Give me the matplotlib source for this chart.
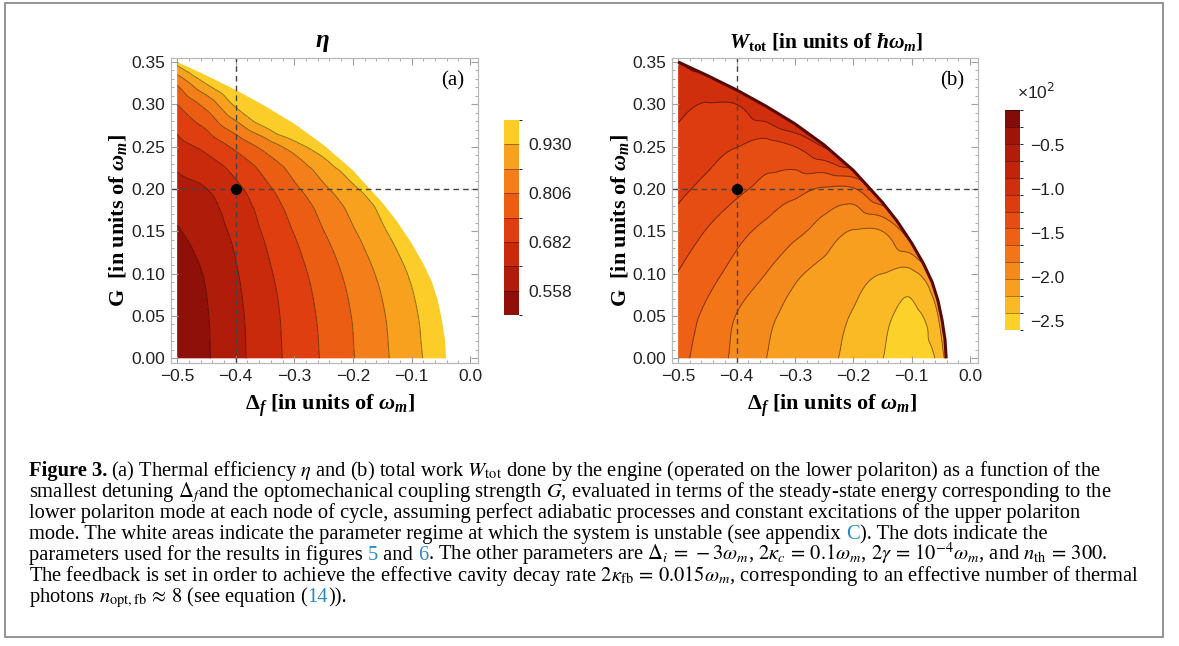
import numpy as np
import matplotlib
matplotlib.use('Agg')
import matplotlib.pyplot as plt
import matplotlib.tri as mtri
from matplotlib.colors import LinearSegmentedColormap, ListedColormap, BoundaryNorm
from matplotlib.patches import Polygon, Rectangle
from matplotlib.cm import ScalarMappable

plt.rcParams['mathtext.fontset'] = 'custom'
plt.rcParams['mathtext.rm'] = 'Liberation Serif:bold'
plt.rcParams['mathtext.it'] = 'Liberation Serif:italic:bold'
plt.rcParams['mathtext.bf'] = 'Liberation Serif:bold'

W, H = 1179, 646

# ---- data ----
delta_f = [-0.50, -0.45, -0.40, -0.35, -0.30, -0.25, -0.20, -0.15, -0.10, -0.05, 0.0]
coupling = [0.0, 0.05, 0.10, 0.15, 0.20, 0.25, 0.30, 0.325, 0.35]

# thermal efficiency eta on the (coupling x delta_f) grid
eta = [
    [0.500, 0.551, 0.602, 0.653, 0.702, 0.751, 0.803, 0.855, 0.909, 0.964, 1.02],
    [0.506, 0.554, 0.605, 0.656, 0.707, 0.757, 0.809, 0.862, 0.917, 0.974, 1.03],
    [0.524, 0.564, 0.615, 0.668, 0.720, 0.773, 0.827, 0.882, 0.938, 0.996, 1.055],
    [0.553, 0.588, 0.634, 0.690, 0.747, 0.805, 0.862, 0.921, 0.980, 1.04, 1.10],
    [0.598, 0.619, 0.667, 0.728, 0.793, 0.856, 0.918, 0.980, 1.04, 1.10, 1.16],
    [0.660, 0.699, 0.758, 0.827, 0.899, 0.978, 1.06, 1.14, 1.22, 1.30, 1.38],
    [0.744, 0.827, 0.943, 1.06, 1.18, 1.30, 1.42, 1.54, 1.66, 1.78, 1.90],
    [0.816, 0.935, 1.04, 1.15, 1.26, 1.37, 1.48, 1.60, 1.71, 1.82, 1.93],
    [0.955, 1.08, 1.20, 1.30, 1.40, 1.50, 1.60, 1.70, 1.80, 1.90, 2.00],
]

# total work W_tot (x 10^2, units of hbar omega_m)
work = [
    [-1.583, -1.727, -1.872, -2.020, -2.096, -2.171, -2.269, -2.405, -2.52, -2.30, -1.2],
    [-1.550, -1.676, -1.837, -1.980, -2.075, -2.149, -2.228, -2.353, -2.46, -2.15, -1.0],
    [-1.452, -1.576, -1.702, -1.831, -1.991, -2.078, -2.146, -2.215, -2.26, -1.90, -0.8],
    [-1.329, -1.458, -1.580, -1.688, -1.783, -1.905, -2.035, -2.023, -1.70, -1.20, -0.6],
    [-1.215, -1.305, -1.406, -1.494, -1.574, -1.660, -1.655, -1.35, -1.00, -0.60, -0.3],
    [-1.112, -1.181, -1.250, -1.330, -1.254, -1.05, -0.80, -0.50, -0.30, -0.20, -0.1],
    [-1.020, -1.070, -1.062, -0.85, -0.60, -0.40, -0.20, -0.10, 0.0, 0.0, 0.0],
    [-0.960, -0.980, -0.80, -0.55, -0.35, -0.20, -0.10, 0.0, 0.0, 0.0, 0.0],
    [-0.880, -0.750, -0.55, -0.35, -0.20, -0.10, 0.0, 0.0, 0.0, 0.0, 0.0],
]

# stability boundary (outside is unstable / white)
bound_delta = [-0.500, -0.450, -0.400, -0.350, -0.300, -0.250, -0.200, -0.150,
               -0.125, -0.100, -0.080, -0.065, -0.055, -0.048, -0.043, -0.041]
bound_g = [0.350, 0.334, 0.317, 0.298, 0.277, 0.252, 0.222, 0.184,
           0.162, 0.136, 0.112, 0.090, 0.068, 0.045, 0.022, 0.000]

eta_levels = [0.496, 0.558, 0.620, 0.682, 0.744, 0.806, 0.868, 0.930, 0.992]
eta_ticks = [0.558, 0.682, 0.806, 0.930]
work_levels = [-2.600, -2.408, -2.215, -2.023, -1.831, -1.638, -1.446,
               -1.254, -1.062, -0.869, -0.677, -0.485, -0.292, -0.100]
work_ticks = [-0.5, -1.0, -1.5, -2.0, -2.5]
dot_delta, dot_g = -0.4, 0.2

x_ticks = [-0.5, -0.4, -0.3, -0.2, -0.1, 0.0]
y_ticks = [0.0, 0.05, 0.10, 0.15, 0.20, 0.25, 0.30, 0.35]

solar = LinearSegmentedColormap.from_list('solar', [
    (0.0, '#750707'), (0.0625, '#8f1008'), (0.1875, '#b01c0a'), (0.3125, '#ca2a0c'),
    (0.4375, '#de3e10'), (0.5625, '#ec5c14'), (0.6875, '#f47e1a'), (0.8125, '#f8a01f'),
    (0.9375, '#fccc29'), (1.0, '#fdd82b')])

fig = plt.figure(figsize=(W / 100, H / 100), dpi=100)


def px_axes(l, t, r, b):
    return fig.add_axes([l / W, 1 - b / H, (r - l) / W, (b - t) / H])


def style_frame(ax):
    ax.set_xlim(-0.5105, 0.0135)
    ax.set_ylim(-0.0055, 0.3547)
    ax.set_xticks(x_ticks, [('%.1f' % v).replace('-', '\u2212') for v in x_ticks])
    ax.set_yticks(y_ticks, ['%.2f' % v for v in y_ticks])
    ax.set_xticks(np.arange(-0.5, 0.011, 0.02), minor=True)
    ax.set_yticks(np.arange(0.0, 0.351, 0.01), minor=True)
    ax.tick_params(which='both', direction='in', top=True, right=True, color='#a0a0a0')
    ax.tick_params(which='major', length=5, width=0.8, labelsize=12.5,
                   labelcolor='#222222', pad=4)
    ax.tick_params(which='minor', length=2.5, width=0.6)
    for t in ax.get_xticklabels() + ax.get_yticklabels():
        t.set_family('Liberation Sans')
    for s in ax.spines.values():
        s.set_color('#b8b8b8')
        s.set_linewidth(0.9)


def field(ax, z, levels, colors):
    xx, yy = np.meshgrid(delta_f, coupling)
    nx, ny = len(delta_f), len(coupling)
    tris = []
    for j in range(ny - 1):
        for i in range(nx - 1):
            k = j * nx + i
            tris.append([k, k + 1, k + nx + 1])
            tris.append([k, k + nx + 1, k + nx])
    tr = mtri.Triangulation(xx.ravel(), yy.ravel(), tris)
    zz = np.ravel(z)
    interp = mtri.CubicTriInterpolator(tr, zz, kind='geom')
    fine, zf = mtri.UniformTriRefiner(tr).refine_field(zz, triinterpolator=interp, subdiv=4)
    verts = np.column_stack([bound_delta + [-0.5], bound_g + [0.0]])
    clip = Polygon(verts, closed=True, transform=ax.transData)
    fill_levels = [-1e3] + list(levels[1:-1]) + [1e3]
    cf = ax.tricontourf(fine, zf, levels=fill_levels, colors=colors)
    cl = ax.tricontour(fine, zf, levels=levels[1:-1], colors='k',
                       linewidths=0.7, alpha=0.45, linestyles='solid')
    cf.set_clip_path(clip)
    cl.set_clip_path(clip)
    ax.axvline(dot_delta, color='#444444', lw=1.0, ls=(0, (4, 3)))
    ax.axhline(dot_g, color='#444444', lw=1.0, ls=(0, (4, 3)))
    ax.plot([dot_delta], [dot_g], 'o', color='k', ms=7)


def bar(cax, levels, colors, ticks, labels):
    norm = BoundaryNorm(levels, len(colors))
    sm = ScalarMappable(norm=norm, cmap=ListedColormap(colors))
    cb = fig.colorbar(sm, cax=cax, drawedges=True, ticks=ticks)
    cb.outline.set_visible(False)
    cb.dividers.set_color('k')
    cb.dividers.set_alpha(0.35)
    cb.dividers.set_linewidth(0.7)
    cb.set_ticklabels(labels)
    cax.tick_params(length=0, labelsize=12.5, pad=7, labelcolor='#222222')
    for t in cax.get_yticklabels():
        t.set_family('Liberation Sans')


lab = dict(family='Liberation Serif', weight='bold', fontsize=16,
           ha='center', va='center')

# panel (a)
eta_colors = [solar((i + 0.5) / 8) for i in range(8)]
ax_a = px_axes(171, 58, 478, 363)
field(ax_a, eta, eta_levels, eta_colors)
style_frame(ax_a)
ax_a.text(0.955, 0.925, '(a)', transform=ax_a.transAxes, ha='right', va='center',
          family='Liberation Serif', fontsize=15)
fig.text(322 / W, 1 - 42 / H, r'$\eta$', **dict(lab, fontsize=18))
fig.text(118 / W, 1 - 220 / H, r'G  [in units of $\omega_m$]', rotation=90, **lab)
fig.text(330 / W, 1 - 406 / H, r'$\Delta_f$ [in units of $\omega_m$]', **lab)
cax_a = px_axes(504, 120, 519, 315)
bar(cax_a, eta_levels, eta_colors, eta_ticks, ['%.3f' % t for t in eta_ticks])

# panel (b)
work_colors = [solar(1 - (i + 0.5) / 13) for i in range(13)]
ax_b = px_axes(672, 58, 978, 363)
field(ax_b, work, work_levels, work_colors)
ax_b.plot(bound_delta, bound_g, color='#5a0804', lw=2.2, solid_capstyle='butt')
style_frame(ax_b)
ax_b.text(0.955, 0.925, '(b)', transform=ax_b.transAxes, ha='right', va='center',
          family='Liberation Serif', fontsize=15)
fig.text(826 / W, 1 - 42 / H, r'$W_{\rm tot}$ [in units of $ħ\omega_m$]',
         **dict(lab, fontsize=15.5))
fig.text(620 / W, 1 - 220 / H, r'G  [in units of $\omega_m$]', rotation=90, **lab)
fig.text(832 / W, 1 - 406 / H, r'$\Delta_f$ [in units of $\omega_m$]', **lab)
cax_b = px_axes(1005, 110, 1020, 330)
bar(cax_b, work_levels, work_colors, work_ticks,
    [('%.1f' % t).replace('-', '\u2212') for t in work_ticks])
fig.text(1036 / W, 1 - 92 / H, '\u00d710$^{2}$', family='Liberation Sans',
         math_fontfamily='dejavusans', fontsize=12.5, ha='center', va='center',
         color='#222222')

# caption
fig.add_artist(Rectangle((5 / W, 1 - 637 / H), 1158 / W, 634 / H,
                         transform=fig.transFigure, fill=False,
                         edgecolor='#8a8a8a', lw=1.3))

FS = 14.8
X0 = 29
blue = '#2a8ac8'
renderer = fig.canvas.get_renderer()
cap = dict(family='Liberation Serif', math_fontfamily='stix', fontsize=FS,
           va='baseline', ha='left')


def width(s, **kw):
    t = fig.text(0, 0, s, **dict(cap, **kw))
    w = t.get_window_extent(renderer).width
    t.remove()
    return w


def line(yb, parts, x0=X0):
    # parts: list of (text, colour); each placed after the text before it
    done = ''
    for s, c in parts:
        x = x0 + (width(done + '|') - width('|') if done else 0)
        fig.text(x / W, 1 - yb / H, s, color=c, **cap)
        done += s


bold_w = width('Figure 3.', weight='bold')
fig.text(X0 / W, 1 - 476 / H, 'Figure 3.', weight='bold', color='k', **cap)
line(476, [(r'(a) Thermal efficiency $\eta$ and (b) total work $W_{\rm tot}$ done by the '
            r'engine (operated on the lower polariton) as a function of the', 'k')],
     x0=X0 + bold_w + 4)
line(497, [(r'smallest detuning $\Delta_f$and the optomechanical coupling strength $G$, '
            r'evaluated in terms of the steady-state energy corresponding to the', 'k')])
line(518, [('lower polariton mode at each node of cycle, assuming perfect adiabatic '
            'processes and constant excitations of the upper polariton', 'k')])
line(539, [('mode. The white areas indicate the parameter regime at which the system '
            'is unstable (see appendix ', 'k'), ('C', blue), ('). The dots indicate the', 'k')])
line(560, [('parameters used for the results in figures ', 'k'), ('5', blue),
           (' and ', 'k'), ('6', blue),
           (r'. The other parameters are $\Delta_i\,=\,-3\omega_m$, $2\kappa_c\,=\,0.1\omega_m$, '
            r'$2\gamma\,=\,10^{-4}\omega_m$, and $n_{\rm th}\,=\,300$.', 'k')])
line(581, [(r'The feedback is set in order to achieve the effective cavity decay rate '
            r'$2\kappa_{\rm fb}\,=\,0.015\omega_m$, corresponding to an effective number of thermal', 'k')])
line(602, [(r'photons $n_{\rm opt,fb}\,\approx\,8$ (see equation (', 'k'), ('14', blue), (')).', 'k')])

fig.savefig('out.png', dpi=100)
